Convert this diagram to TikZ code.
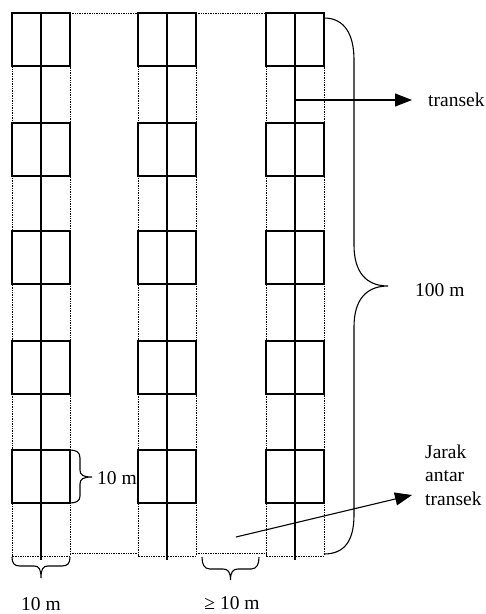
\documentclass[tikz,border=0pt]{standalone}
\usepackage{fontspec}
\setmainfont{Liberation Serif}
\usetikzlibrary{arrows.meta}
\begin{document}
\begin{tikzpicture}[x=1pt,y=-1pt,
  plot/.style={draw, line width=1.1pt, minimum width=58pt, minimum height=53pt,
               inner sep=0pt, outer sep=0pt},
  strip/.style={line width=0.7pt, dash pattern=on 0.8pt off 0.9pt},
  axisline/.style={line width=1.1pt},
  bracket/.style={line width=1.1pt},
  pointer/.style={line width=1.1pt, -{Triangle[length=17pt,width=13pt]}},
  lbl/.style={font=\fontsize{19.5}{23.5}\selectfont, inner sep=0pt}
]
\useasboundingbox (0,0) rectangle (486,614);

% dotted strips around the three transects
\foreach \c/\x in {1/41,2/167,3/295}{
  \coordinate (s\c nw) at (\x-29,13);
  \coordinate (s\c ne) at (\x+29,13);
  \coordinate (s\c sw) at (\x-29,556);
  \coordinate (s\c se) at (\x+29,556);
  \draw[strip] (s\c nw) -- (s\c sw) -- (s\c se) -- (s\c ne);
}
\coordinate (g1sw) at (70,553);  \coordinate (g1se) at (138,553);
\coordinate (g2sw) at (196,553); \coordinate (g2se) at (266,553);
\draw[strip] (s1ne) -- (s2nw);
\draw[strip] (s2ne) -- (s3nw);
\draw[strip] (g1sw) -- (g1se);
\draw[strip] (g2sw) -- (g2se);

% sample plots along each transect
\foreach \c/\x in {1/41,2/167,3/295}{
  \foreach \r/\y in {1/39.5,2/149.5,3/257.5,4/367.5,5/476.5}{
    \node[plot] (p\c\r) at (\x,\y) {};
  }
}

% transect lines
\foreach \c/\x in {1/41,2/167,3/295}{
  \coordinate (t\c top) at (\x,13);
  \coordinate (t\c bot) at (\x,560);
  \draw[axisline] (t\c top) -- (t\c bot);
}

% brace: full transect length
\draw[bracket] (324,18) .. controls (345,18) and (354,35) .. (354,60)
  -- (354,245) .. controls (354,272) and (366,286) .. (388,286)
  .. controls (366,286) and (354,300) .. (354,327)
  -- (354,515) .. controls (354,540) and (345,554) .. (324,554);

% brace: plot size
\draw[bracket] (p15.north east) .. controls (76,450) and (80,452) .. (80,458)
  -- (80,470) .. controls (80,475) and (83,477) .. (92,477)
  .. controls (83,477) and (80,479) .. (80,484)
  -- (80,496) .. controls (80,501) and (76,503) .. (p15.south east);

% brace: strip width
\draw[bracket] (12,557) .. controls (12,563) and (14,566) .. (20,566)
  -- (34,566) .. controls (39,566) and (41,569) .. (41,578)
  .. controls (41,569) and (43,566) .. (48,566)
  -- (62,566) .. controls (68,566) and (70,563) .. (70,557);

% brace: distance between transects
\draw[bracket] (202,557) .. controls (202,564) and (204,569) .. (210,569)
  -- (223,569) .. controls (228,569) and (230.5,572) .. (230.5,580)
  .. controls (230.5,572) and (233,569) .. (238,569)
  -- (251,569) .. controls (257,569) and (259,564) .. (259,557);

% labels
\node[lbl, anchor=west] (lplot) at (97,478) {10 m};
\node[lbl] (lstrip) at (41,604) {10 m};
\node[lbl] (lgap) at (232,603) {≥ 10 m};
\node[lbl, anchor=west] (llen) at (415,290) {100 m};
\node[lbl, anchor=west] (ltr) at (428,100) {transek};
\node[lbl, anchor=west, align=left] (ljarak) at (425,475) {Jarak\\antar\\transek};

% pointers
\coordinate (a1) at (294,100);
\coordinate (a1tip) at (412,100);
\draw[pointer] (a1) -- (a1tip);
\coordinate (a2) at (236,537);
\coordinate (a2tip) at (412,495);
\draw[pointer] (a2) -- (a2tip);
\end{tikzpicture}
\end{document}
